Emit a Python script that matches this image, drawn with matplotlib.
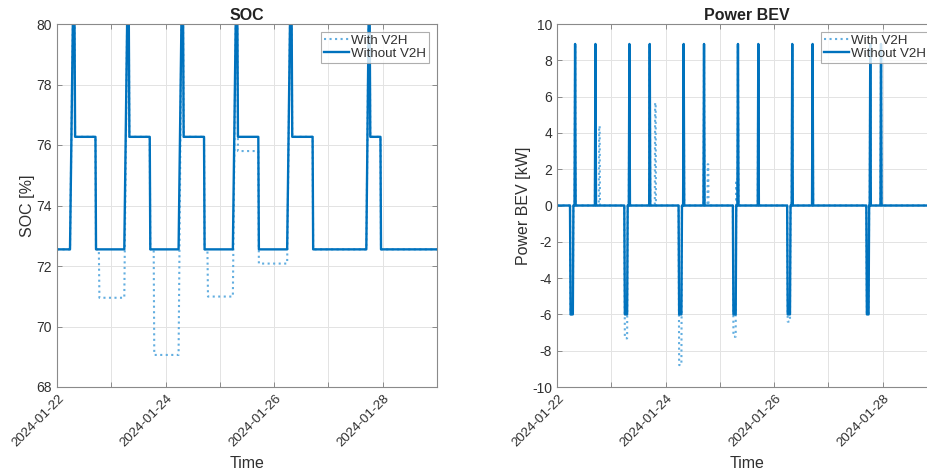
import matplotlib
matplotlib.use("Agg")
import matplotlib.pyplot as plt
import matplotlib.dates as mdates
import matplotlib.transforms as mtransforms
from matplotlib.ticker import FuncFormatter, MultipleLocator
import pandas as pd

plt.rcParams['font.family'] = ['Liberation Sans', 'DejaVu Sans']
plt.rcParams['axes.unicode_minus'] = False

START = pd.Timestamp('2024-01-22')
X_END = pd.Timestamp('2024-01-29')

# ---------------- data (hours since 2024-01-22 00:00, value) ----------------
soc_without_h = [0, 5.75, 7.0, 7.75, 8.0, 17.0, 17.25,
                 29.75, 31.0, 31.75, 32.0, 41.0, 41.25,
                 53.75, 55.0, 55.75, 56.0, 65.0, 65.25,
                 77.75, 79.0, 79.75, 80.0, 89.0, 89.25,
                 101.75, 103.0, 103.75, 104.0, 113.0, 113.25,
                 136.75, 137.75, 138.25, 138.5, 143.0, 143.25, 168]
soc_without_v = [72.55, 72.55, 80.0, 80.0, 76.27, 76.27, 72.55,
                 72.55, 80.0, 80.0, 76.27, 76.27, 72.55,
                 72.55, 80.0, 80.0, 76.27, 76.27, 72.55,
                 72.55, 80.0, 80.0, 76.27, 76.27, 72.55,
                 72.55, 80.0, 80.0, 76.27, 76.27, 72.55,
                 72.55, 80.0, 80.0, 76.27, 76.27, 72.55, 72.55]

soc_with_h = [0, 5.75, 7.0, 7.75, 8.0, 17.0, 17.25, 18.5, 18.75,
              29.75, 31.0, 31.75, 32.0, 41.0, 41.25, 42.75, 43.0,
              53.75, 55.0, 55.75, 56.0, 65.0, 65.25, 66.5, 66.75,
              77.75, 79.0, 79.75, 80.0, 89.0, 89.25,
              101.75, 103.0, 103.75, 104.0, 113.0, 113.25,
              136.75, 137.75, 138.25, 138.5, 143.0, 143.25, 168]
soc_with_v = [72.55, 72.55, 80.0, 80.0, 76.27, 76.27, 72.55, 72.55, 70.95,
              70.95, 80.0, 80.0, 76.27, 76.27, 72.55, 72.55, 69.06,
              69.06, 80.0, 80.0, 76.27, 76.27, 72.55, 72.55, 70.99,
              70.99, 80.0, 80.0, 75.80, 75.80, 72.08,
              72.08, 80.0, 80.0, 76.27, 76.27, 72.55,
              72.55, 80.0, 80.0, 76.27, 76.27, 72.55, 72.55]

pwr_without_h = [0, 5.75, 6.0, 7.0, 7.25, 7.75, 8.0, 8.25, 16.75, 17.0, 17.25,
                 29.75, 30.0, 31.0, 31.25, 31.75, 32.0, 32.25, 40.75, 41.0, 41.25,
                 53.75, 54.0, 55.0, 55.25, 55.75, 56.0, 56.25, 64.75, 65.0, 65.25,
                 77.75, 78.0, 79.0, 79.25, 79.75, 80.0, 80.25, 88.75, 89.0, 89.25,
                 101.75, 102.0, 103.0, 103.25, 103.75, 104.0, 104.25, 112.75, 113.0, 113.25,
                 136.75, 137.0, 137.75, 138.0, 138.25, 138.5, 138.75, 143.0, 143.25, 143.5, 168]
pwr_without_v = [0, 0, -6.0, -6.0, 0, 0, 8.9, 0, 0, 8.9, 0,
                 0, -6.0, -6.0, 0, 0, 8.9, 0, 0, 8.9, 0,
                 0, -6.0, -6.0, 0, 0, 8.9, 0, 0, 8.9, 0,
                 0, -6.0, -6.0, 0, 0, 8.9, 0, 0, 8.9, 0,
                 0, -6.0, -6.0, 0, 0, 8.9, 0, 0, 8.9, 0,
                 0, -6.0, -6.0, 0, 0, 8.9, 0, 0, 8.9, 0, 0]

pwr_with_h = [0, 5.75, 6.0, 7.0, 7.25, 7.75, 8.0, 8.25, 16.75, 17.0, 17.25,
              18.5, 18.625, 18.875, 19.0,
              29.75, 30.0, 31.0, 31.25, 31.75, 32.0, 32.25, 40.75, 41.0, 41.25,
              43.25, 43.375, 43.625, 43.75,
              53.75, 54.0, 55.0, 55.25, 55.75, 56.0, 56.25, 64.75, 65.0, 65.25,
              66.5, 66.625, 66.875, 67.0,
              77.75, 78.0, 79.0, 79.25, 79.5, 79.75, 80.0, 80.25, 88.75, 89.0, 89.25,
              101.75, 102.0, 103.0, 103.25, 103.75, 104.0, 104.25, 112.75, 113.0, 113.25,
              136.75, 137.0, 137.75, 138.0, 138.25, 138.5, 138.75, 143.0, 143.25, 143.5, 168]
pwr_with_v = [0, 0, -6.0, -6.0, 0, 0, 8.9, 0, 0, 8.9, 0,
              0, 4.38, 4.38, 0,
              0, -7.32, -7.32, 0, 0, 8.9, 0, 0, 8.9, 0,
              0, 5.66, 5.66, 0,
              0, -8.79, -8.79, 0, 0, 8.9, 0, 0, 8.9, 0,
              0, 2.27, 2.27, 0,
              0, -7.23, -7.23, 1.4, 0, 0, 8.9, 0, 0, 8.9, 0,
              0, -6.4, -6.4, 0, 0, 8.9, 0, 0, 8.9, 0,
              0, -6.0, -6.0, 0, 0, 8.9, 0, 0, 8.9, 0, 0]

legend_labels = ['With V2H', 'Without V2H']
titles = ['SOC', 'Power BEV']
ylabels = ['SOC [%]', 'Power BEV [kW]']


def to_time(hours):
    return START + pd.to_timedelta(hours, unit='h')


C_SOLID = '#0072BD'
C_DOT = '#62AEE0'
TXT = '#303030'
SPINE = '#8a8a8a'

fig = plt.figure(figsize=(9.28, 4.72), dpi=100)
W, H = 928, 472
ax1 = fig.add_axes([57 / W, 1 - 387 / H, 380 / W, 363 / H])
ax2 = fig.add_axes([557 / W, 1 - 387 / H, 380 / W, 363 / H])

series = [
    (ax1, soc_with_h, soc_with_v, soc_without_h, soc_without_v, (68, 80), 2),
    (ax2, pwr_with_h, pwr_with_v, pwr_without_h, pwr_without_v, (-10, 10), 2),
]

for i, (ax, wh, wv, nh, nv, ylim, ystep) in enumerate(series):
    ax.plot(to_time(wh), wv, linestyle=':', color=C_DOT, lw=1.5, label=legend_labels[0])
    ax.plot(to_time(nh), nv, linestyle='-', color=C_SOLID, lw=1.7, label=legend_labels[1])
    ax.set_xlim(START, X_END)
    ax.set_ylim(*ylim)
    ax.yaxis.set_major_locator(MultipleLocator(ystep))
    ax.xaxis.set_major_locator(mdates.DayLocator(interval=1))

    def fmt(x, pos):
        d = mdates.num2date(x)
        return d.strftime('%Y-%m-%d') if (d.day - 22) % 2 == 0 else ''
    ax.xaxis.set_major_formatter(FuncFormatter(fmt))

    ax.grid(True, color='#e3e3e3', lw=0.7)
    ax.set_axisbelow(True)
    ax.tick_params(direction='in', top=True, right=True, length=3.5, width=0.7,
                   colors=SPINE, labelcolor=TXT, labelsize=10)
    ax.tick_params(axis='x', labelsize=9.6)
    for sp in ax.spines.values():
        sp.set_color(SPINE)
        sp.set_linewidth(0.8)
    offset = mtransforms.ScaledTranslation(5 / 100, -5 / 100, fig.dpi_scale_trans)
    for lab in ax.get_xticklabels():
        lab.set_rotation(45)
        lab.set_ha('right')
        lab.set_va('center')
        lab.set_rotation_mode('anchor')
        lab.set_transform(lab.get_transform() + offset)

    ax.set_title(titles[i], fontsize=11.5, fontweight='bold', color='#222222', pad=3)
    ax.set_ylabel(ylabels[i], fontsize=11.5, color=TXT, labelpad=1)
    ax.set_xlabel('Time', fontsize=11.5, color=TXT)
    ax.xaxis.set_label_coords(0.5, -0.19)

    leg = ax.legend(loc='upper right', fontsize=9.6, frameon=True, fancybox=False,
                    borderpad=0.2, labelspacing=0.05, handletextpad=0.15,
                    handlelength=1.9, borderaxespad=0.6)
    leg.get_frame().set_edgecolor('#9a9a9a')
    leg.get_frame().set_linewidth(0.8)
    for t in leg.get_texts():
        t.set_color(TXT)

fig.savefig('out.png', dpi=100)
